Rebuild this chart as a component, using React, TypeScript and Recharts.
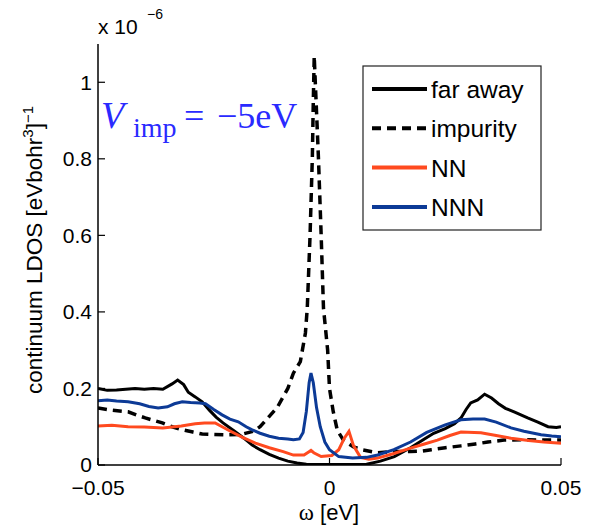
import React from 'react';
import { LineChart, Line, XAxis, YAxis } from 'recharts';

// ω in eV, LDOS in units of 1e-6 [eV bohr^3]^-1
const farX = [-0.05, -0.048, -0.046, -0.044, -0.042, -0.04, -0.038, -0.036, -0.034, -0.0328, -0.0315, -0.0305, -0.029, -0.0275, -0.026, -0.0245, -0.023, -0.0205, -0.0185, -0.0167, -0.015, -0.013, -0.011, -0.009, -0.007, -0.005, -0.003, 0, 0.004, 0.008, 0.011, 0.014, 0.0175, 0.0205, 0.0225, 0.025, 0.027, 0.0284, 0.0295, 0.0305, 0.032, 0.0335, 0.035, 0.0365, 0.038, 0.04, 0.0428, 0.045, 0.0472, 0.049, 0.05];
const farY = [0.2, 0.195, 0.196, 0.198, 0.2, 0.198, 0.2, 0.198, 0.212, 0.222, 0.21, 0.19, 0.178, 0.165, 0.144, 0.125, 0.11, 0.088, 0.07, 0.052, 0.04, 0.028, 0.018, 0.01, 0.005, 0.002, 0.001, 0.001, 0.001, 0.002, 0.01, 0.022, 0.045, 0.068, 0.083, 0.095, 0.108, 0.123, 0.145, 0.162, 0.17, 0.185, 0.175, 0.16, 0.148, 0.138, 0.123, 0.112, 0.1, 0.098, 0.1];

const impX = [-0.05, -0.047, -0.0435, -0.0415, -0.0398, -0.0361, -0.034, -0.0318, -0.0295, -0.0275, -0.025, -0.022, -0.019, -0.0165, -0.015, -0.0113, -0.009, -0.0078, -0.0063, -0.0052, -0.0048, -0.0042, -0.0037, -0.0035, -0.0033, -0.003, -0.0024, -0.0018, -0.0013, -0.0004, 0, 0.0008, 0.0017, 0.003, 0.0052, 0.007, 0.0104, 0.014, 0.0175, 0.0197, 0.022, 0.025, 0.0284, 0.0315, 0.0342, 0.0377, 0.042, 0.0463, 0.05];
const impY = [0.149, 0.143, 0.139, 0.13, 0.123, 0.11, 0.1, 0.092, 0.086, 0.081, 0.08, 0.079, 0.08, 0.088, 0.1, 0.15, 0.2, 0.24, 0.27, 0.345, 0.41, 0.6, 0.806, 0.95, 1.068, 0.98, 0.806, 0.6, 0.41, 0.3, 0.2, 0.14, 0.09, 0.065, 0.047, 0.04, 0.032, 0.035, 0.035, 0.036, 0.04, 0.045, 0.05, 0.055, 0.06, 0.065, 0.066, 0.065, 0.065];

const nnX = [-0.05, -0.047, -0.0435, -0.04, -0.036, -0.032, -0.029, -0.027, -0.0247, -0.022, -0.0189, -0.016, -0.013, -0.01, -0.0078, -0.0055, -0.0045, -0.004, -0.0034, -0.0018, 0.0005, 0.002, 0.0032, 0.0042, 0.0052, 0.0067, 0.0085, 0.0104, 0.0139, 0.0175, 0.0205, 0.0233, 0.026, 0.0284, 0.0327, 0.036, 0.0392, 0.043, 0.0463, 0.05];
const nnY = [0.102, 0.104, 0.1, 0.099, 0.097, 0.102, 0.108, 0.11, 0.11, 0.092, 0.073, 0.057, 0.045, 0.035, 0.026, 0.026, 0.034, 0.038, 0.032, 0.022, 0.025, 0.04, 0.07, 0.088, 0.05, 0.02, 0.015, 0.018, 0.03, 0.044, 0.055, 0.065, 0.077, 0.086, 0.084, 0.077, 0.07, 0.064, 0.06, 0.057];

const nnnX = [-0.05, -0.048, -0.046, -0.0435, -0.041, -0.039, -0.037, -0.035, -0.0335, -0.0318, -0.03, -0.028, -0.0268, -0.025, -0.0232, -0.0215, -0.0197, -0.018, -0.0167, -0.015, -0.013, -0.011, -0.009, -0.0078, -0.0065, -0.0057, -0.005, -0.0044, -0.004, -0.0035, -0.0028, -0.002, -0.001, 0, 0.002, 0.005, 0.008, 0.0104, 0.0139, 0.0175, 0.021, 0.025, 0.0284, 0.031, 0.0335, 0.036, 0.0392, 0.042, 0.0457, 0.048, 0.05];
const nnnY = [0.168, 0.17, 0.167, 0.165, 0.16, 0.153, 0.149, 0.152, 0.16, 0.165, 0.163, 0.162, 0.16, 0.145, 0.131, 0.12, 0.113, 0.1, 0.092, 0.083, 0.075, 0.07, 0.068, 0.066, 0.068, 0.085, 0.14, 0.215, 0.24, 0.215, 0.15, 0.1, 0.06, 0.04, 0.022, 0.018, 0.02, 0.026, 0.04, 0.06, 0.085, 0.105, 0.118, 0.12, 0.12, 0.112, 0.097, 0.088, 0.079, 0.076, 0.074];

const xTicks = [-0.05, 0, 0.05];
const xTickLabels = ['\u22120.05', '0', '0.05'];
const yTicks = [0, 0.2, 0.4, 0.6, 0.8, 1];
const yTickLabels = ['0', '0.2', '0.4', '0.6', '0.8', '1'];

const seriesNames = ['far away', 'impurity', 'NN', 'NNN'];
const seriesColors = ['#000000', '#000000', '#ff4a1f', '#0c3a96'];
const seriesDash = ['', '9 6', '', ''];

const toRows = (xs: number[], ys: number[]) => xs.map((x, i) => ({ w: x, v: ys[i] }));

const farData = toRows(farX, farY);
const impData = toRows(impX, impY);
const nnData = toRows(nnX, nnY);
const nnnData = toRows(nnnX, nnnY);

const SANS = '"Liberation Sans", Arial, Helvetica, sans-serif';
const SERIF = '"Liberation Serif", "Times New Roman", serif';

const fmtX = (v: number) => {
  const i = xTicks.findIndex((t) => Math.abs(t - v) < 1e-9);
  return i >= 0 ? xTickLabels[i] : '';
};
const fmtY = (v: number) => {
  const i = yTicks.findIndex((t) => Math.abs(t - v) < 1e-9);
  return i >= 0 ? yTickLabels[i] : '';
};

export default function App() {
  const W = 592;
  const H = 529;
  const tickStyle = { fontFamily: SANS, fontSize: 21, fill: '#000' };
  return (
    <div style={{ position: 'absolute', left: 0, top: 0, width: W, height: H, background: '#fff' }}>
      <LineChart width={W} height={H} margin={{ top: 44, right: 31, bottom: 0, left: 0 }}>
        <XAxis
          xAxisId="main"
          dataKey="w"
          type="number"
          domain={[-0.05, 0.05]}
          ticks={xTicks}
          tickFormatter={fmtX}
          height={64}
          tickSize={-7}
          tickMargin={22}
          axisLine={{ stroke: '#000', strokeWidth: 1.5 }}
          tickLine={{ stroke: '#000', strokeWidth: 1.2 }}
          tick={tickStyle}
          allowDataOverflow
          interval={0}
        />
        <XAxis
          xAxisId="top"
          orientation="top"
          type="number"
          domain={[-0.05, 0.05]}
          ticks={xTicks}
          tickFormatter={() => ''}
          height={0}
          tickSize={-7}
          axisLine={{ stroke: '#000', strokeWidth: 1.5 }}
          tickLine={{ stroke: '#000', strokeWidth: 1.2 }}
          allowDataOverflow
          interval={0}
        />
        <YAxis
          yAxisId="main"
          type="number"
          domain={[0, 1.1]}
          ticks={yTicks}
          tickFormatter={fmtY}
          width={98}
          tickSize={-7}
          tickMargin={13}
          axisLine={{ stroke: '#000', strokeWidth: 1.5 }}
          tickLine={{ stroke: '#000', strokeWidth: 1.2 }}
          tick={tickStyle}
          allowDataOverflow
          interval={0}
        />
        <YAxis
          yAxisId="right"
          orientation="right"
          type="number"
          domain={[0, 1.1]}
          ticks={yTicks}
          tickFormatter={() => ''}
          width={0}
          tickSize={-7}
          axisLine={{ stroke: '#000', strokeWidth: 1.5 }}
          tickLine={{ stroke: '#000', strokeWidth: 1.2 }}
          allowDataOverflow
          interval={0}
        />
        <Line xAxisId="main" yAxisId="main" data={farData} dataKey="v" type="linear" stroke={seriesColors[0]} strokeWidth={3} dot={false} isAnimationActive={false} name={seriesNames[0]} />
        <Line xAxisId="main" yAxisId="main" data={impData} dataKey="v" type="linear" stroke={seriesColors[1]} strokeWidth={3.5} strokeDasharray={seriesDash[1]} dot={false} isAnimationActive={false} name={seriesNames[1]} />
        <Line xAxisId="main" yAxisId="main" data={nnData} dataKey="v" type="linear" stroke={seriesColors[2]} strokeWidth={3} dot={false} isAnimationActive={false} name={seriesNames[2]} />
        <Line xAxisId="main" yAxisId="main" data={nnnData} dataKey="v" type="linear" stroke={seriesColors[3]} strokeWidth={3} dot={false} isAnimationActive={false} name={seriesNames[3]} />
      </LineChart>

      <svg width={W} height={H} style={{ position: 'absolute', left: 0, top: 0, pointerEvents: 'none' }}>
        {/* exponent */}
        <text x={98} y={34} fontFamily={SANS} fontSize={21} fill="#000">x 10</text>
        <text x={147} y={19} fontFamily={SANS} fontSize={14} fill="#000">{'\u22126'}</text>
        {/* y label */}
        <text
          transform="translate(42,250) rotate(-90)"
          textAnchor="middle"
          fontFamily={SANS}
          fontSize={22.5}
          fill="#000"
        >
          continuum LDOS [eVbohr
          <tspan dy={-9} fontSize={15}>3</tspan>
          <tspan dy={9}>]</tspan>
          <tspan dy={-9} fontSize={15}>{'\u22121'}</tspan>
        </text>
        {/* x label */}
        <text x={329} y={520} textAnchor="middle" fill="#000">
          <tspan fontFamily={SERIF} fontSize={23}>ω</tspan>
          <tspan fontFamily={SANS} fontSize={22}> [eV]</tspan>
        </text>
        {/* annotation */}
        <text fill="#2a2aff" fontFamily={SERIF}>
          <tspan x={101} y={128} fontSize={38} fontStyle="italic">V</tspan>
          <tspan x={133} y={137} fontSize={28}>imp</tspan>
          <tspan x={184} y={128} fontSize={36}>=</tspan>
          <tspan x={217} y={128} fontSize={36}>{'\u22125eV'}</tspan>
        </text>
        {/* legend */}
        <rect x={363} y={66} width={178} height={164} fill="#fff" stroke="#222" strokeWidth={1.2} />
        {seriesNames.map((n, i) => {
          const y = 89 + i * 39.3;
          return (
            <g key={n}>
              <line x1={372} x2={427} y1={y} y2={y} stroke={seriesColors[i]} strokeWidth={4} strokeDasharray={seriesDash[i] || undefined} />
              <text x={431} y={y + 9} fontFamily={SANS} fontSize={24.5} fill="#000">{n}</text>
            </g>
          );
        })}
      </svg>
    </div>
  );
}
